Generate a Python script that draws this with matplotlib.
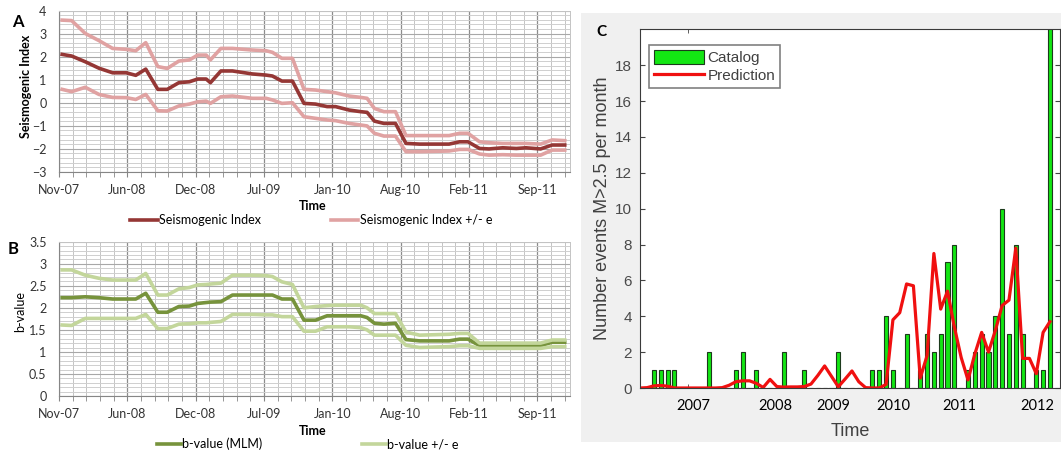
import numpy as np
import matplotlib
matplotlib.use('Agg')
import matplotlib.pyplot as plt
from matplotlib.patches import Rectangle
from matplotlib.ticker import MultipleLocator, FixedLocator

plt.rcParams['font.family'] = ['Lato', 'DejaVu Sans']

# ---- panels A and B: months since Nov-07 ----
t_months = [0.3, 1.2, 2.5, 3.8, 5.1, 6.4, 7.3, 8.25, 9.4, 10.3,
            11.4, 12.4, 13.2, 14.0, 14.4, 15.4, 16.5, 18.4, 19.7, 20.3,
            21.2, 22.2, 23.3, 24.4, 25.5, 26.3, 27.6, 28.7, 29.3, 30.0,
            30.9, 32.0, 33.0, 34.3, 37.1, 38.1, 38.9, 40.0, 40.9, 42.2,
            43.5, 44.4, 45.8, 46.9, 48.1]

si = [2.1, 2.03, 1.78, 1.5, 1.3, 1.3, 1.19, 1.46, 0.58, 0.58,
      0.87, 0.91, 1.03, 1.03, 0.87, 1.38, 1.38, 1.25, 1.2, 1.16,
      0.94, 0.94, -0.03, -0.06, -0.17, -0.17, -0.32, -0.39, -0.42, -0.8,
      -0.9, -0.9, -1.77, -1.8, -1.8, -1.7, -1.7, -1.99, -2.01, -1.96,
      -1.99, -1.96, -2.01, -1.84, -1.84]
si_up = [3.59, 3.57, 3.01, 2.7, 2.36, 2.32, 2.26, 2.61, 1.57, 1.49,
         1.81, 1.86, 2.07, 2.07, 1.86, 2.36, 2.36, 2.29, 2.26, 2.19,
         1.93, 1.93, 0.58, 0.55, 0.48, 0.43, 0.29, 0.23, 0.19, -0.25,
         -0.39, -0.39, -1.43, -1.43, -1.43, -1.33, -1.33, -1.7, -1.74, -1.77,
         -1.77, -1.77, -1.8, -1.62, -1.65]
si_lo = [0.58, 0.48, 0.67, 0.36, 0.23, 0.22, 0.14, 0.36, -0.35, -0.36,
         -0.14, -0.06, 0.04, 0.07, -0.03, 0.26, 0.29, 0.19, 0.19, 0.12,
         -0.03, 0.0, -0.61, -0.68, -0.75, -0.78, -0.9, -0.97, -1.01, -1.33,
         -1.45, -1.45, -2.13, -2.13, -2.1, -2.03, -2.03, -2.23, -2.28, -2.26,
         -2.28, -2.28, -2.28, -2.06, -2.06]

b_val = [2.23, 2.23, 2.25, 2.23, 2.2, 2.2, 2.2, 2.33, 1.9, 1.9,
         2.03, 2.04, 2.1, 2.12, 2.13, 2.14, 2.29, 2.29, 2.29, 2.29,
         2.2, 2.2, 1.72, 1.72, 1.82, 1.82, 1.82, 1.82, 1.78, 1.65,
         1.63, 1.65, 1.28, 1.25, 1.25, 1.29, 1.29, 1.14, 1.14, 1.14,
         1.14, 1.14, 1.14, 1.22, 1.22]
b_up = [2.86, 2.86, 2.74, 2.67, 2.63, 2.63, 2.63, 2.78, 2.29, 2.29,
        2.43, 2.46, 2.52, 2.53, 2.54, 2.56, 2.74, 2.74, 2.73, 2.71,
        2.59, 2.53, 2.0, 2.03, 2.05, 2.06, 2.06, 2.06, 2.0, 1.87,
        1.87, 1.87, 1.45, 1.38, 1.4, 1.42, 1.42, 1.2, 1.2, 1.2,
        1.2, 1.2, 1.2, 1.27, 1.27]
b_lo = [1.61, 1.6, 1.76, 1.76, 1.76, 1.76, 1.76, 1.85, 1.53, 1.53,
        1.63, 1.64, 1.66, 1.66, 1.67, 1.69, 1.85, 1.85, 1.84, 1.84,
        1.8, 1.8, 1.47, 1.47, 1.57, 1.57, 1.57, 1.55, 1.5, 1.38,
        1.38, 1.38, 1.15, 1.1, 1.12, 1.14, 1.14, 1.08, 1.08, 1.08,
        1.08, 1.08, 1.08, 1.12, 1.12]

date_labels = ['Nov-07', 'Jun-08', 'Dec-08', 'Jul-09', 'Jan-10', 'Aug-10', 'Feb-11', 'Sep-11']
label_step = 6.5

# ---- panel C: monthly counts ----
catalog = [0, 0, 1, 1, 1, 1, 0, 0, 0, 0,
           2, 0, 0, 0, 1, 2, 0, 1, 0, 0,
           0, 2, 0, 0, 1, 0, 0, 0, 0, 2,
           0, 0, 0, 0, 1, 1, 4, 1, 0, 3,
           0, 1, 3, 2, 3, 7, 8, 0, 1, 2,
           3, 2, 4, 10, 3, 8, 3, 0, 1, 1,
           24]
prediction = [0.0, 0.02, 0.12, 0.14, 0.1, 0.0, 0.0, 0.0, 0.0, 0.0,
              0.0, 0.0, 0.02, 0.15, 0.35, 0.4, 0.4, 0.26, 0.03, 0.48,
              0.08, 0.05, 0.06, 0.06, 0.08, 0.22, 0.7, 1.23, 0.65, 0.07,
              0.5, 0.95, 0.35, 0.02, 0.0, 0.0, 0.2, 3.8, 4.2, 5.8,
              5.7, 0.55, 1.8, 7.5, 4.4, 5.4, 3.4, 1.7, 0.45, 1.9,
              3.1, 2.0, 3.2, 4.6, 4.9, 7.8, 1.65, 1.65, 0.8, 3.1,
              3.7]
month_idx = np.arange(len(catalog))
year_labels = ['2007', '2008', '2009', '2010', '2011', '2012']
year_ticks = [7.76, 19.85, 28.2, 37.0, 46.8, 58.1]

fig = plt.figure(figsize=(10.61, 4.53), dpi=100)

# grey panel behind C
fig.add_artist(Rectangle((0.548, 0.025), 0.452, 0.9457, transform=fig.transFigure,
                         facecolor='#f0f0f0', edgecolor='none', zorder=-5))


def excel_axes(ax, ymin, ymax, major, minor):
    ax.set_xlim(0, 48.6)
    ax.set_ylim(ymin, ymax)
    ax.xaxis.set_major_locator(FixedLocator(np.arange(len(date_labels)) * label_step))
    ax.xaxis.set_minor_locator(MultipleLocator(label_step / 5))
    ax.set_xticklabels(date_labels)
    ax.yaxis.set_major_locator(MultipleLocator(major))
    ax.yaxis.set_minor_locator(MultipleLocator(minor))
    ax.grid(which='major', axis='x', color='#8c8c8c', lw=0.9)
    ax.grid(which='minor', axis='x', color='#c4c4c4', lw=0.7)
    ax.grid(which='major', axis='y', color='#a8a8a8', lw=0.8)
    ax.grid(which='minor', axis='y', color='#cfcfcf', lw=0.7)
    ax.set_axisbelow(True)
    for s in ['top', 'right']:
        ax.spines[s].set_color('#c4c4c4')
        ax.spines[s].set_linewidth(0.7)
    for s in ['left', 'bottom']:
        ax.spines[s].set_color('#868686')
    ax.tick_params(axis='x', which='both', direction='out', length=3.5,
                   color='#868686', labelsize=9, labelcolor='#333333', pad=5)
    ax.tick_params(axis='y', which='both', length=0, labelsize=9,
                   labelcolor='#333333', pad=9)


# ---- A ----
axA = fig.add_axes([59 / 1061, 1 - 171.7 / 453, 511 / 1061, 161 / 453])
excel_axes(axA, -3, 4, 1, 0.2)
axA.plot(t_months, si, color='#953735', lw=2.6, label='Seismogenic Index')
axA.plot(t_months, si_up, color='#e0a2a2', lw=2.6, label='Seismogenic Index +/- e')
axA.plot(t_months, si_lo, color='#e0a2a2', lw=2.6)
axA.set_ylabel('Seismogenic Index', fontsize=9, fontweight='bold')
axA.yaxis.set_label_coords(-0.052, 0.53)
axA.set_xlabel('Time', fontsize=9, fontweight='bold')
axA.xaxis.set_label_coords(0.497, -0.175)
axA.legend(loc='center left', bbox_to_anchor=(130 / 1061, 1 - 220 / 453),
           bbox_transform=fig.transFigure, ncol=2, frameon=False, fontsize=9,
           handlelength=2.2, handletextpad=0.1, columnspacing=5.6,
           borderpad=0, borderaxespad=0)
fig.text(18 / 1061, 1 - 22 / 453, 'A', fontsize=12, fontweight='bold', ha='center', va='center')

# ---- B ----
axB = fig.add_axes([59 / 1061, 1 - 396 / 453, 511 / 1061, 154.3 / 453])
excel_axes(axB, 0, 3.5, 0.5, 0.1)
axB.yaxis.set_major_formatter(matplotlib.ticker.FuncFormatter(lambda v, p: f'{v:g}'))
axB.plot(t_months, b_val, color='#77933c', lw=2.6, label='b-value (MLM)')
axB.plot(t_months, b_up, color='#c3d69b', lw=2.6, label='b-value +/- e')
axB.plot(t_months, b_lo, color='#c3d69b', lw=2.6)
axB.set_ylabel('b-value', fontsize=9)
axB.yaxis.set_label_coords(-0.064, 0.55)
axB.set_xlabel('Time', fontsize=9, fontweight='bold')
axB.xaxis.set_label_coords(0.497, -0.19)
axB.legend(loc='center left', bbox_to_anchor=(157 / 1061, 1 - 444 / 453),
           bbox_transform=fig.transFigure, ncol=2, frameon=False, fontsize=9,
           handlelength=1.9, handletextpad=0.1, columnspacing=8.0,
           borderpad=0, borderaxespad=0)
fig.text(13 / 1061, 1 - 249 / 453, 'B', fontsize=12, fontweight='bold', ha='center', va='center')

# ---- C ----
axC = fig.add_axes([640.3 / 1061, 1 - 388 / 453, 419.2 / 1061, 358.7 / 453])
axC.set_facecolor('white')
bars = axC.bar(month_idx, catalog, width=0.6, color='#13e613', edgecolor='#1c3a1c',
               linewidth=0.8, label='Catalog')
line, = axC.plot(month_idx, prediction, color='#f01010', lw=2.3, label='Prediction')
axC.set_xlim(0, 61.4)
axC.set_ylim(0, 20)
axC.yaxis.set_major_locator(FixedLocator(np.arange(0, 19, 2)))
axC.set_xticks(year_ticks)
axC.set_xticklabels(year_labels)
axC.xaxis.set_minor_locator(FixedLocator([7, 37]))
axC.tick_params(axis='x', which='major', length=0, pad=8, labelsize=10.5,
                labelcolor='black')
axC.tick_params(axis='x', which='minor', direction='in', length=3,
                top=True, bottom=True, color='#444444')
axC.tick_params(axis='y', direction='in', length=3.5, right=True,
                color='#444444', labelsize=11, labelcolor='#4a4a4a', pad=6)
for lab in axC.get_yticklabels():
    lab.set_family(['Liberation Sans', 'DejaVu Sans'])
for s in axC.spines.values():
    s.set_color('#3a3a3a')
    s.set_linewidth(0.8)
axC.set_ylabel('Number events M>2.5 per month', fontsize=13, color='#404040',
               family=['Liberation Sans', 'DejaVu Sans'])
axC.yaxis.set_label_coords(-0.07, 0.5)
axC.set_xlabel('Time', fontsize=13, color='#404040',
               family=['Liberation Sans', 'DejaVu Sans'])
axC.xaxis.set_label_coords(0.5, -0.097)
legC = axC.legend([bars, line], ['Catalog', 'Prediction'],
                  loc='upper left', bbox_to_anchor=(0.0215, 0.955),
                  prop={'family': ['Liberation Sans', 'DejaVu Sans'], 'size': 11},
                  handlelength=3.3, handleheight=1.0, handletextpad=0.2,
                  borderpad=0.3, labelspacing=0.2, fancybox=False,
                  framealpha=1, edgecolor='#808080', borderaxespad=0)
legC.get_frame().set_linewidth(1.2)
for txt in legC.get_texts():
    txt.set_color('#404040')
fig.text(601.7 / 1061, 1 - 31.7 / 453, 'C', fontsize=11, fontweight='bold',
         ha='center', va='center')

fig.savefig('out.png', dpi=100)
